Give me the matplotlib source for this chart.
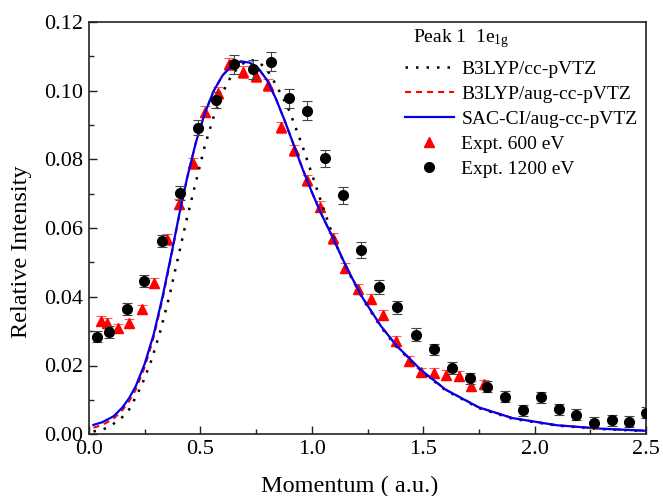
import matplotlib
matplotlib.use("Agg")
import matplotlib.pyplot as plt
from matplotlib.lines import Line2D
from matplotlib.ticker import MultipleLocator

plt.rcParams.update({
    "font.family": ["Liberation Serif", "DejaVu Serif"],
    "mathtext.fontset": "custom",
    "mathtext.rm": "Liberation Serif",
    "mathtext.it": "Liberation Serif:italic",
    "axes.linewidth": 1.2,
    "axes.edgecolor": "#222222",
})

# ── theory curves ───────────────────────────────────────────────────────────
sac_x = [0.02, 0.06, 0.11, 0.15, 0.18, 0.21, 0.25, 0.29, 0.33, 0.37, 0.405,
         0.44, 0.48, 0.52, 0.56, 0.60, 0.64, 0.68, 0.72, 0.76, 0.80, 0.84,
         0.88, 0.92, 0.96, 1.00, 1.04, 1.09, 1.16, 1.23, 1.31, 1.38, 1.49,
         1.60, 1.75, 1.90, 2.10, 2.30, 2.50]
sac_y = [0.0027, 0.0035, 0.0052, 0.0078, 0.0105, 0.0140, 0.0205, 0.0290,
         0.0400, 0.0525, 0.0640, 0.0745, 0.0850, 0.0935, 0.1000, 0.1045,
         0.1072, 0.1085, 0.1082, 0.1065, 0.1030, 0.0975, 0.0910, 0.0840,
         0.0770, 0.0705, 0.0645, 0.0578, 0.0480, 0.0395, 0.0315, 0.0258,
         0.0187, 0.0130, 0.0078, 0.0047, 0.0026, 0.0016, 0.0010]

aug_x = sac_x
aug_y = [0.0019, 0.0027, 0.0045, 0.0070, 0.0096, 0.0130, 0.0195, 0.0282,
         0.0393, 0.0520, 0.0637, 0.0745, 0.0850, 0.0935, 0.1000, 0.1045,
         0.1072, 0.1085, 0.1082, 0.1065, 0.1030, 0.0975, 0.0910, 0.0840,
         0.0770, 0.0705, 0.0645, 0.0578, 0.0480, 0.0395, 0.0315, 0.0258,
         0.0187, 0.0130, 0.0078, 0.0047, 0.0026, 0.0016, 0.0010]

cc_x = [0.02, 0.06, 0.09, 0.14, 0.18, 0.21, 0.24, 0.28, 0.32, 0.36, 0.40,
        0.44, 0.48, 0.52, 0.56, 0.60, 0.64, 0.68, 0.72, 0.76, 0.80, 0.835,
        0.87, 0.90, 0.93, 0.96, 1.00, 1.04, 1.08, 1.12, 1.16, 1.23, 1.31,
        1.38, 1.49, 1.60, 1.75, 1.90, 2.10, 2.30, 2.50]
cc_y = [0.0008, 0.0013, 0.0022, 0.0043, 0.0072, 0.0108, 0.0148, 0.0215,
        0.0300, 0.0400, 0.0515, 0.0630, 0.0735, 0.0840, 0.0925, 0.0995,
        0.1045, 0.1075, 0.1090, 0.1085, 0.1060, 0.1022, 0.0980, 0.0940,
        0.0888, 0.0835, 0.0758, 0.0680, 0.0605, 0.0535, 0.0478, 0.0392,
        0.0312, 0.0255, 0.0185, 0.0128, 0.0076, 0.0045, 0.0025, 0.0015,
        0.0009]

# ── experiment, 600 eV ──────────────────────────────────────────────────────
e600_x = [0.052, 0.079, 0.129, 0.181, 0.236, 0.292, 0.350, 0.405, 0.465,
          0.521, 0.580, 0.630, 0.693, 0.750, 0.805, 0.861, 0.921, 0.980,
          1.037, 1.095, 1.149, 1.209, 1.264, 1.321, 1.378, 1.435, 1.490,
          1.547, 1.601, 1.659, 1.714, 1.771]
e600_y = [0.0330, 0.0325, 0.0308, 0.0323, 0.0364, 0.0441, 0.0567, 0.0670,
          0.0789, 0.0939, 0.0994, 0.1078, 0.1055, 0.1043, 0.1017, 0.0894,
          0.0827, 0.0740, 0.0662, 0.0570, 0.0483, 0.0422, 0.0394, 0.0347,
          0.0272, 0.0213, 0.0180, 0.0178, 0.0173, 0.0169, 0.0141, 0.0145]
e600_err = [0.0013, 0.0013, 0.0013, 0.0013, 0.0013, 0.0014, 0.0015, 0.0015,
            0.0016, 0.0016, 0.0017, 0.0017, 0.0017, 0.0017, 0.0017, 0.0016,
            0.0016, 0.0016, 0.0016, 0.0015, 0.0015, 0.0015, 0.0015, 0.0015,
            0.0014, 0.0014, 0.0014, 0.0014, 0.0014, 0.0014, 0.0014, 0.0014]

# ── experiment, 1200 eV ─────────────────────────────────────────────────────
e1200_x = [0.035, 0.089, 0.169, 0.247, 0.328, 0.408, 0.491, 0.571, 0.651,
           0.735, 0.816, 0.898, 0.978, 1.059, 1.140, 1.221, 1.303, 1.384,
           1.466, 1.547, 1.628, 1.708, 1.788, 1.867, 1.948, 2.027, 2.108,
           2.187, 2.267, 2.346, 2.425, 2.500]
e1200_y = [0.0284, 0.0298, 0.0365, 0.0446, 0.0563, 0.0703, 0.0892, 0.0973,
           0.1077, 0.1062, 0.1085, 0.0978, 0.0942, 0.0803, 0.0695, 0.0536,
           0.0428, 0.0369, 0.0290, 0.0247, 0.0192, 0.0163, 0.0138, 0.0109,
           0.0070, 0.0107, 0.0073, 0.0056, 0.0034, 0.0040, 0.0036, 0.0063]
e1200_err = [0.0017, 0.0017, 0.0017, 0.0017, 0.0018, 0.0020, 0.0022, 0.0024,
             0.0027, 0.0027, 0.0028, 0.0028, 0.0027, 0.0025, 0.0024, 0.0023,
             0.0021, 0.0020, 0.0019, 0.0017, 0.0017, 0.0016, 0.0016, 0.0016,
             0.0016, 0.0016, 0.0016, 0.0016, 0.0016, 0.0016, 0.0016, 0.0016]

DOT = (0, (1, 3.2))
DASH = (0, (2.9, 2.4))

# ── canvas ──────────────────────────────────────────────────────────────────
fig = plt.figure(figsize=(6.63, 4.96), dpi=100)
ax = fig.add_axes([89 / 663, 1 - 434.2 / 496, 557 / 663, 412.2 / 496])

ax.errorbar(e600_x, e600_y, yerr=e600_err, fmt="^", ms=7.5, color="#ff0000",
            mec="#ff0000", ecolor="#ff5a5a", elinewidth=0.8, capsize=3.5,
            capthick=0.8, zorder=2)
ax.plot(cc_x, cc_y, color="black", lw=1.8, ls=DOT, zorder=3)
ax.plot(aug_x, aug_y, color="#ff0000", lw=1.5, ls=DASH, zorder=3)
ax.plot(sac_x, sac_y, color="#0000ee", lw=1.6, zorder=4)
ax.errorbar(e1200_x, e1200_y, yerr=e1200_err, fmt="o", ms=7, color="black",
            ecolor="#444444", elinewidth=0.8, capsize=3.5, capthick=0.8,
            zorder=5)

ax.set_xlim(0, 2.5)
ax.set_ylim(0, 0.12)
ax.xaxis.set_major_locator(MultipleLocator(0.5))
ax.xaxis.set_minor_locator(MultipleLocator(0.25))
ax.yaxis.set_major_locator(MultipleLocator(0.02))
ax.yaxis.set_minor_locator(MultipleLocator(0.01))
ax.xaxis.set_major_formatter(plt.FuncFormatter(lambda v, p: f"{v:.1f}"))
ax.yaxis.set_major_formatter(plt.FuncFormatter(lambda v, p: f"{v:.2f}"))
ax.tick_params(which="both", direction="in", top=False, right=False,
               labelsize=16, width=1.0, color="#222222")
ax.tick_params(which="major", length=6)
ax.tick_params(which="minor", length=3.5)
ax.tick_params(axis="x", pad=4)
ax.tick_params(axis="y", pad=4.5)

ax.set_xlabel("Momentum ( a.u.)", fontsize=17.5)
ax.xaxis.label.set_va("baseline")
ax.xaxis.set_label_coords((349.5 - 89) / 557, (434.2 - 491.7) / 412.2)
ax.set_ylabel("Relative Intensity", fontsize=17.5)
ax.yaxis.label.set_va("center")
ax.yaxis.set_label_coords((22 - 89) / 557, (434.2 - 251.5) / 412.2)

# ── legend ──────────────────────────────────────────────────────────────────
fig.text(413 / 663, 1 - 42 / 496, r"Peak 1  1e$_{\mathrm{1g}}$", fontsize=14,
         va="baseline", ha="left")
handles = [
    Line2D([], [], color="black", lw=1.8, ls=DOT, label="B3LYP/cc-pVTZ"),
    Line2D([], [], color="#ff0000", lw=1.5, ls=DASH,
           label="B3LYP/aug-cc-pVTZ"),
    Line2D([], [], color="#0000ee", lw=1.6, label="SAC-CI/aug-cc-pVTZ"),
    Line2D([], [], color="#ff0000", marker="^", ms=7.5, ls="none",
           label="Expt. 600 eV"),
    Line2D([], [], color="black", marker="o", ms=7, ls="none",
           label="Expt. 1200 eV"),
]
ax.legend(handles=handles, loc="upper left", frameon=False, fontsize=14,
          bbox_to_anchor=(405 / 663, 1 - 60 / 496),
          bbox_transform=fig.transFigure, borderpad=0, borderaxespad=0,
          handlelength=2.5, handletextpad=0.4, labelspacing=0.38)

fig.savefig("out.png", dpi=100)
